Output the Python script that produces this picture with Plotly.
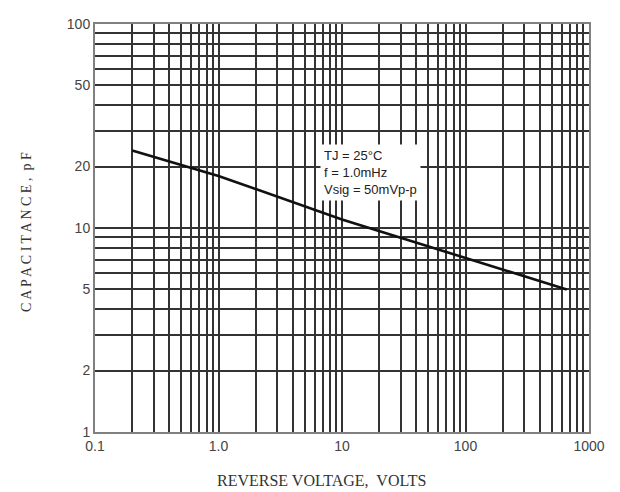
import plotly.graph_objects as go

# Data
voltage = [0.2, 1.0, 10, 100, 660]          # reverse voltage, V
capacitance = [24, 18, 11, 7.1, 5.0]         # capacitance, pF

x_grid = [m * 10 ** e for e in range(-1, 3) for m in range(1, 10)] + [1000]
x_labels = {0.1: "0.1", 1: "1.0", 10: "10", 100: "100", 1000: "1000"}
y_grid = [m * 10 ** e for e in range(0, 2) for m in range(1, 10)] + [100]
y_labels = {1: "1", 2: "2", 5: "5", 10: "10", 20: "20", 50: "50", 100: "100"}

conditions = ["TJ = 25°C", "f = 1.0mHz", "Vsig = 50mVp-p"]
x_title = "REVERSE VOLTAGE,  VOLTS"
y_title = "C A P A C I T A N C E ,  p F"


def lbl(v, table):
    for k, t in table.items():
        if abs(v - k) < 1e-9 * max(1, k):
            return t
    return ""


fig = go.Figure()
fig.add_trace(go.Scatter(
    x=voltage, y=capacitance, mode="lines",
    line=dict(color="#111111", width=2.6),
    showlegend=False, hoverinfo="skip",
))

tick_font = dict(family="Liberation Sans, Arial, sans-serif", size=14, color="#444444")

fig.update_xaxes(
    type="log", range=[-1, 3],
    tickmode="array", tickvals=x_grid,
    ticktext=[lbl(v, x_labels) for v in x_grid],
    showgrid=True, gridcolor="#333333", gridwidth=1.5,
    showline=True, mirror=True, linecolor="#808080", linewidth=2,
    ticks="", tickfont=tick_font, zeroline=False,
)
fig.update_yaxes(
    type="log", range=[0, 2],
    tickmode="array", tickvals=y_grid,
    ticktext=[lbl(v, y_labels) for v in y_grid],
    showgrid=True, gridcolor="#333333", gridwidth=1.5,
    showline=True, mirror=True, linecolor="#808080", linewidth=2,
    ticks="", tickfont=tick_font, zeroline=False,
)

fig.add_annotation(
    xref="paper", yref="paper", x=0.4555, y=0.7065,
    xanchor="left", yanchor="top", align="left",
    text="<br>".join(conditions), showarrow=False,
    bgcolor="white", borderpad=3,
    font=dict(family="Liberation Sans, Arial, sans-serif", size=13, color="#222222"),
)

fig.add_annotation(
    xref="paper", yref="paper", x=(321 - 95) / 494, y=-0.12,
    xanchor="center", yanchor="middle",
    text=x_title, showarrow=False,
    font=dict(family="Liberation Serif, Times New Roman, serif", size=16, color="#333333"),
)
fig.add_annotation(
    xref="paper", yref="paper", x=-0.14, y=0.49,
    xanchor="center", yanchor="middle", textangle=-90,
    text=y_title, showarrow=False,
    font=dict(family="Liberation Serif, Times New Roman, serif", size=14, color="#333333"),
)

# page body has an 8px default margin, so the figure is offset inside the window
fig.update_layout(
    width=612, height=484,
    margin=dict(l=87, r=31, t=8, b=60),
    paper_bgcolor="white", plot_bgcolor="white",
)

fig.write_html("out.html")
